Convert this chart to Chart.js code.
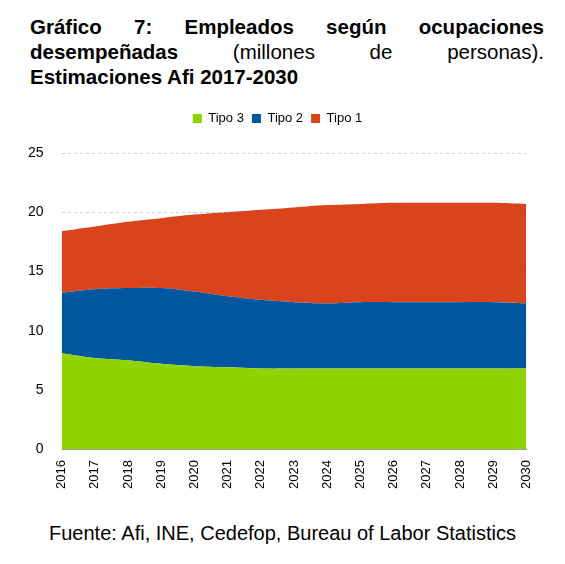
<!DOCTYPE html>
<html><head><meta charset="utf-8">
<script src="https://cdn.jsdelivr.net/npm/chart.js@4"></script>
<style>
body{margin:0;background:#fff;font-family:"Liberation Sans",Arial,sans-serif;}
#t{position:absolute;left:30px;top:14px;width:514px;font-size:20.5px;line-height:25px;color:#000}
#t div.j{text-align:justify;text-align-last:justify}
#wrap{position:absolute;left:0;top:104px;width:545px;height:388px}
#src{position:absolute;left:0;width:565px;top:522px;text-align:center;font-size:20px;color:#000}
</style></head><body>
<div id="t"><div class="j"><b>Gráfico 7: Empleados según ocupaciones</b></div><div class="j"><b>desempeñadas</b> (millones de personas).</div><div><b>Estimaciones Afi 2017-2030</b></div></div>
<div id="wrap"><canvas id="c"></canvas></div>
<div id="src">Fuente: Afi, INE, Cedefop, Bureau of Labor Statistics</div>
<script>
const years=["2016","2017","2018","2019","2020","2021","2022","2023","2024","2025","2026","2027","2028","2029","2030"];
const tipo3=[8.1,7.7,7.5,7.2,7.0,6.9,6.8,6.8,6.8,6.8,6.8,6.8,6.8,6.8,6.8];
const tipo2Top=[13.2,13.5,13.6,13.6,13.3,12.9,12.6,12.4,12.3,12.4,12.4,12.4,12.4,12.4,12.3];
const total=[18.4,18.8,19.2,19.5,19.8,20.0,20.2,20.4,20.6,20.7,20.8,20.8,20.8,20.8,20.7];
const tipo2=tipo2Top.map((v,i)=>+(v-tipo3[i]).toFixed(2));
const tipo1=total.map((v,i)=>+(v-tipo2Top[i]).toFixed(2));
const mk=(l,d,c,f)=>({label:l,data:d,backgroundColor:c,borderColor:c,borderWidth:0,fill:f,pointRadius:0,tension:0.4});
const legendPad={id:'legendPad',beforeInit(chart){const f=chart.legend.fit;chart.legend.fit=function(){f.bind(chart.legend)();this.height+=18;};}};
new Chart(document.getElementById('c'),{type:'line',plugins:[legendPad],
data:{labels:years,datasets:[mk('Tipo 3',tipo3,'#8fd400','origin'),mk('Tipo 2',tipo2,'#0057a0','-1'),mk('Tipo 1',tipo1,'#d9441c','-1')]},
options:{responsive:true,maintainAspectRatio:false,animation:false,
layout:{padding:{left:10,right:0,top:0,bottom:0}},
plugins:{legend:{labels:{boxWidth:9,boxHeight:9,font:{size:13,family:"Liberation Sans"},color:'#000',padding:8}},tooltip:{enabled:false}},
scales:{x:{offset:false,grid:{display:false},border:{color:'#999'},ticks:{minRotation:90,maxRotation:90,font:{size:13,family:"Liberation Sans"},color:'#000'}},
y:{stacked:true,min:0,max:25,ticks:{stepSize:5,font:{size:14,family:"Liberation Sans"},color:'#000',padding:18},grid:{color:'#d0d0d0',drawTicks:false},border:{display:true,color:'#fff',dash:[3,3]}}}}});
</script></body></html>
